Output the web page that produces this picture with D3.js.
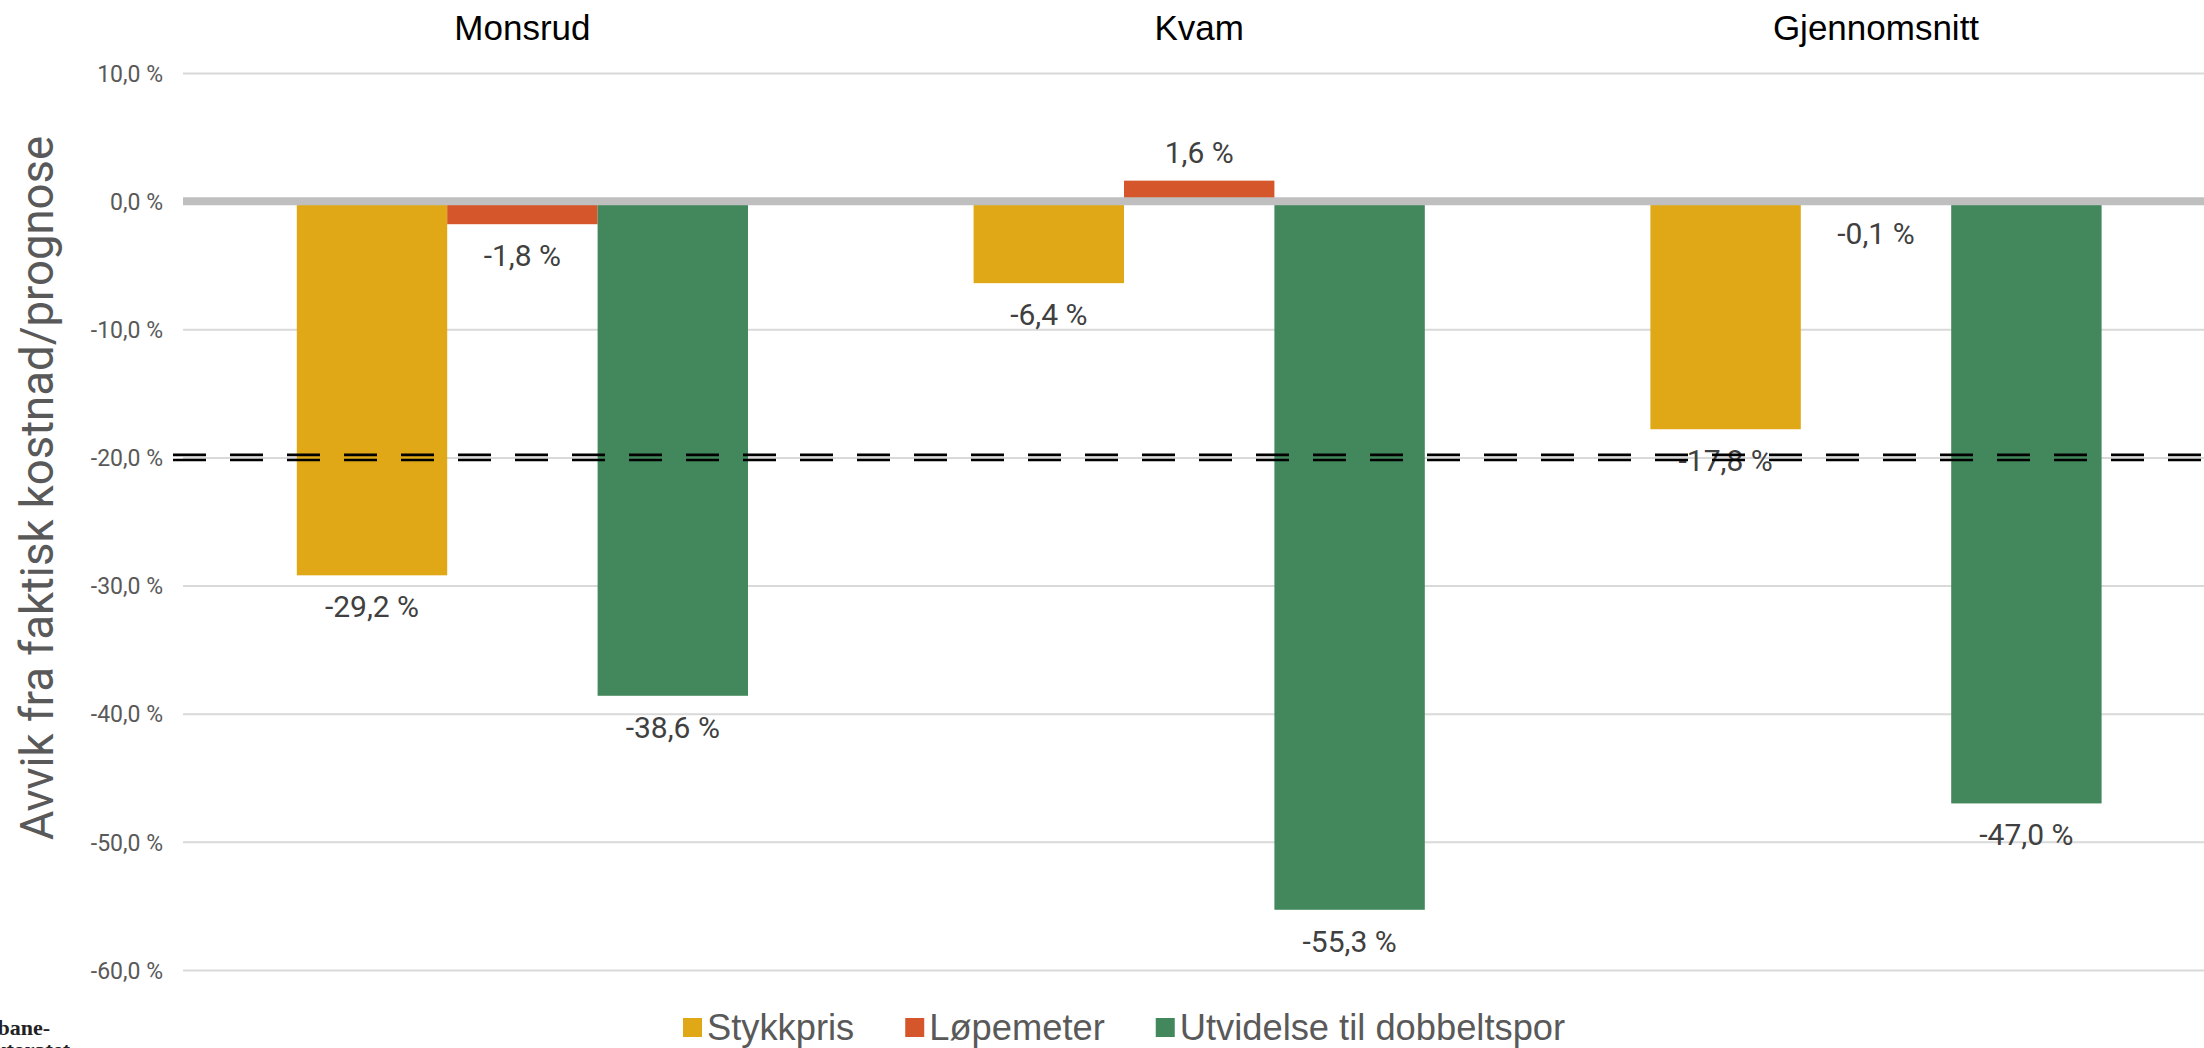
<!DOCTYPE html>
<html>
<head>
<meta charset="utf-8">
<script src="https://cdn.jsdelivr.net/npm/d3@7"></script>
<style>
  html, body { margin: 0; padding: 0; background: #fff; overflow: hidden; }
  svg { display: block; }
</style>
</head>
<body>
<svg id="chart" width="2204" height="1048"></svg>
<script>
// Cost deviation per project and estimation method
const categories = ["Monsrud", "Kvam", "Gjennomsnitt"];
const seriesNames = ["Stykkpris", "Løpemeter", "Utvidelse til dobbeltspor"];
const stykkpris = [-29.2, -6.4, -17.8];
const lopemeter = [-1.8, 1.6, -0.1];
const dobbeltspor = [-38.6, -55.3, -47.0];
const tickValues = [10, 0, -10, -20, -30, -40, -50, -60];
const thresholdValue = -20;
const colors = ["#e0a816", "#d4562a", "#42885c"];

const seriesValues = [stykkpris, lopemeter, dobbeltspor];
const rows = categories.map((c, i) => ({
  category: c,
  values: seriesNames.map((s, j) => ({ series: s, value: seriesValues[j][i], color: colors[j] }))
}));

const fmt = v => (v < 0 ? "-" : "") + Math.abs(v).toFixed(1).replace(".", ",") + " %";

const svg = d3.select("#chart");
const plotLeft = 184, plotRight = 2214.4;

const x0 = d3.scaleBand().domain(categories).range([plotLeft, plotRight]).padding(0);
const x1 = d3.scaleBand().domain(seriesNames).range([0, x0.bandwidth()])
  .paddingInner(0).paddingOuter(0.75);
const y = d3.scaleLinear().domain([-60, 10]).range([970, 73]);

// Gridlines and tick labels
const yAxis = d3.axisLeft(y).tickValues(tickValues).tickSize(0).tickFormat(fmt);
const axisG = svg.append("g").attr("transform", `translate(${plotLeft - 1},0)`).call(yAxis);
axisG.select(".domain").remove();
axisG.selectAll(".tick text")
  .attr("x", -20)
  .attr("dy", "0.36em")
  .style("font-family", "Roboto, sans-serif")
  .style("font-size", "23px")
  .style("fill", "#595959");
axisG.selectAll(".tick line")
  .attr("x2", 2204 - plotLeft + 1)
  .attr("stroke", "#d9d9d9")
  .attr("stroke-width", 2);

// Category titles
svg.append("g").selectAll("text").data(categories).join("text")
  .attr("x", d => x0(d) + x0.bandwidth() / 2)
  .attr("y", 40)
  .attr("text-anchor", "middle")
  .style("font-family", "'Liberation Sans', Arial, sans-serif")
  .style("font-size", "35px")
  .style("fill", "#000")
  .text(d => d);

// Value labels
const groups = svg.append("g").selectAll("g").data(rows).join("g")
  .attr("transform", d => `translate(${x0(d.category)},0)`);

groups.selectAll("text").data(d => d.values).join("text")
  .attr("x", d => x1(d.series) + x1.bandwidth() / 2)
  .attr("y", d => d.value >= 0 ? y(d.value) - 18 : y(d.value) + 42)
  .attr("text-anchor", "middle")
  .style("font-family", "Roboto, sans-serif")
  .style("font-size", "30px")
  .style("fill", "#404040")
  .text(d => fmt(d.value));

// Double dashed threshold line
const ty = y(thresholdValue);
[-2.6, 2.6].forEach(off => {
  svg.append("line")
    .attr("x1", 173).attr("x2", 2204)
    .attr("y1", ty + off).attr("y2", ty + off)
    .attr("stroke", "#000")
    .attr("stroke-width", 2.6)
    .attr("stroke-dasharray", "33,24");
});

// Bars
groups.append("g").selectAll("rect").data(d => d.values).join("rect")
  .attr("x", d => x1(d.series))
  .attr("width", x1.bandwidth())
  .attr("y", d => y(Math.max(0, d.value)))
  .attr("height", d => Math.abs(y(d.value) - y(0)))
  .attr("fill", d => d.color);

// Zero line
svg.append("line")
  .attr("x1", plotLeft - 1).attr("x2", 2204)
  .attr("y1", y(0)).attr("y2", y(0))
  .attr("stroke", "#bfbfbf")
  .attr("stroke-width", 8);

// Y axis title
svg.append("text")
  .attr("transform", `translate(53,${488}) rotate(-90)`)
  .attr("text-anchor", "middle")
  .style("font-family", "Roboto, sans-serif")
  .style("font-size", "45.5px")
  .style("fill", "#595959")
  .text("Avvik fra faktisk kostnad/prognose");

// Legend
const legend = svg.append("g");
let lx = 683;
seriesNames.forEach((s, i) => {
  legend.append("rect")
    .attr("x", lx).attr("y", 1018).attr("width", 19).attr("height", 19)
    .attr("fill", colors[i]);
  const t = legend.append("text")
    .attr("x", lx + 24).attr("y", 1040)
    .style("font-family", "'Liberation Sans', Arial, sans-serif")
    .style("font-size", "36.3px")
    .style("fill", "#595959")
    .text(s);
  lx += 24 + t.node().getComputedTextLength() + 51;
});

// Publisher mark in the lower-left corner
const logo = svg.append("g")
  .style("font-family", "'Liberation Serif', 'DejaVu Serif', serif")
  .style("font-weight", "bold")
  .style("font-size", "22px")
  .style("fill", "#222");
logo.append("text").attr("x", 50).attr("y", 1035).attr("text-anchor", "end").text("Jernbane-");
logo.append("text").attr("x", 70).attr("y", 1057).attr("text-anchor", "end").text("direktoratet");
</script>
</body>
</html>
